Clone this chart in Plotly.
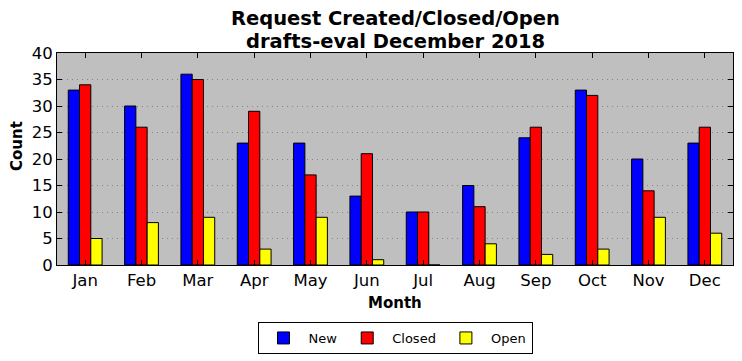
import plotly.graph_objects as go

months = ["Jan", "Feb", "Mar", "Apr", "May", "Jun", "Jul", "Aug", "Sep", "Oct", "Nov", "Dec"]
new_vals = [33, 30, 36, 23, 23, 13, 10, 15, 24, 33, 20, 23]
closed_vals = [34, 26, 35, 29, 17, 21, 10, 11, 26, 32, 14, 26]
open_vals = [5, 8, 9, 3, 9, 1, 0, 4, 2, 3, 9, 6]
y_ticks = [0, 5, 10, 15, 20, 25, 30, 35, 40]

x = list(range(len(months)))
fig = go.Figure()
for name, vals, color in [("New", new_vals, "#0000ff"),
                          ("Closed", closed_vals, "#ff0000"),
                          ("Open", open_vals, "#ffff00")]:
    fig.add_trace(go.Bar(x=x, y=vals, name=name,
                         marker=dict(color=color, line=dict(color="black", width=1))))

font = "DejaVu Sans"
L, R, T, B = 57, 733, 53, 265
W, H = 742, 361
ph = B - T
pw = R - L


def py(p):
    return (B - p) / ph


def px(p):
    return (p - L) / pw


fig.update_layout(
    width=W, height=H,
    margin=dict(l=L, r=W - R, t=T, b=H - B, autoexpand=False),
    paper_bgcolor="white", plot_bgcolor="#bfbfbf",
    barmode="group", bargap=0.4, bargroupgap=0,
    font=dict(family=font, color="black"),
    legend=dict(orientation="h", x=px(395), xanchor="center", y=py(338), yanchor="middle",
                bordercolor="black", borderwidth=1, font=dict(size=13),
                itemwidth=40, traceorder="normal", tracegroupgap=0),
    xaxis=dict(range=[-0.5, 11.5], tickvals=x, ticktext=months,
               ticks="inside", ticklen=5, tickcolor="black", mirror="allticks",
               showline=True, linecolor="black", linewidth=1, showgrid=False,
               tickfont=dict(size=16.5), zeroline=False, automargin=False),
    yaxis=dict(range=[0, 40], tickvals=y_ticks,
               ticks="inside", ticklen=5, tickcolor="black", mirror="allticks",
               showline=True, linecolor="black", linewidth=1,
               showgrid=True, gridcolor="#858585", griddash="1px,4px", gridwidth=1,
               tickfont=dict(size=16.5), zeroline=False, automargin=False),
    annotations=[
        dict(text="<b>Request Created/Closed/Open</b>", x=px(395), y=py(19),
             xref="paper", yref="paper", xanchor="center", yanchor="middle",
             showarrow=False, font=dict(size=19.5, family=font)),
        dict(text="<b>drafts-eval December 2018</b>", x=px(395), y=py(41),
             xref="paper", yref="paper", xanchor="center", yanchor="middle",
             showarrow=False, font=dict(size=19.5, family=font)),
        dict(text="<b>Month</b>", x=px(395), y=py(303),
             xref="paper", yref="paper", xanchor="center", yanchor="middle",
             showarrow=False, font=dict(size=15, family=font)),
        dict(text="<b>Count</b>", x=px(17), y=py(146), textangle=-90,
             xref="paper", yref="paper", xanchor="center", yanchor="middle",
             showarrow=False, font=dict(size=15, family=font)),
    ],
)
fig.write_html("out.html", config={"displayModeBar": False})

with open("out.html", encoding="utf-8") as f:
    html = f.read()
html = html.replace("<head>", "<head><style>html,body{margin:0;padding:0;}</style>", 1)
with open("out.html", "w", encoding="utf-8") as f:
    f.write(html)
